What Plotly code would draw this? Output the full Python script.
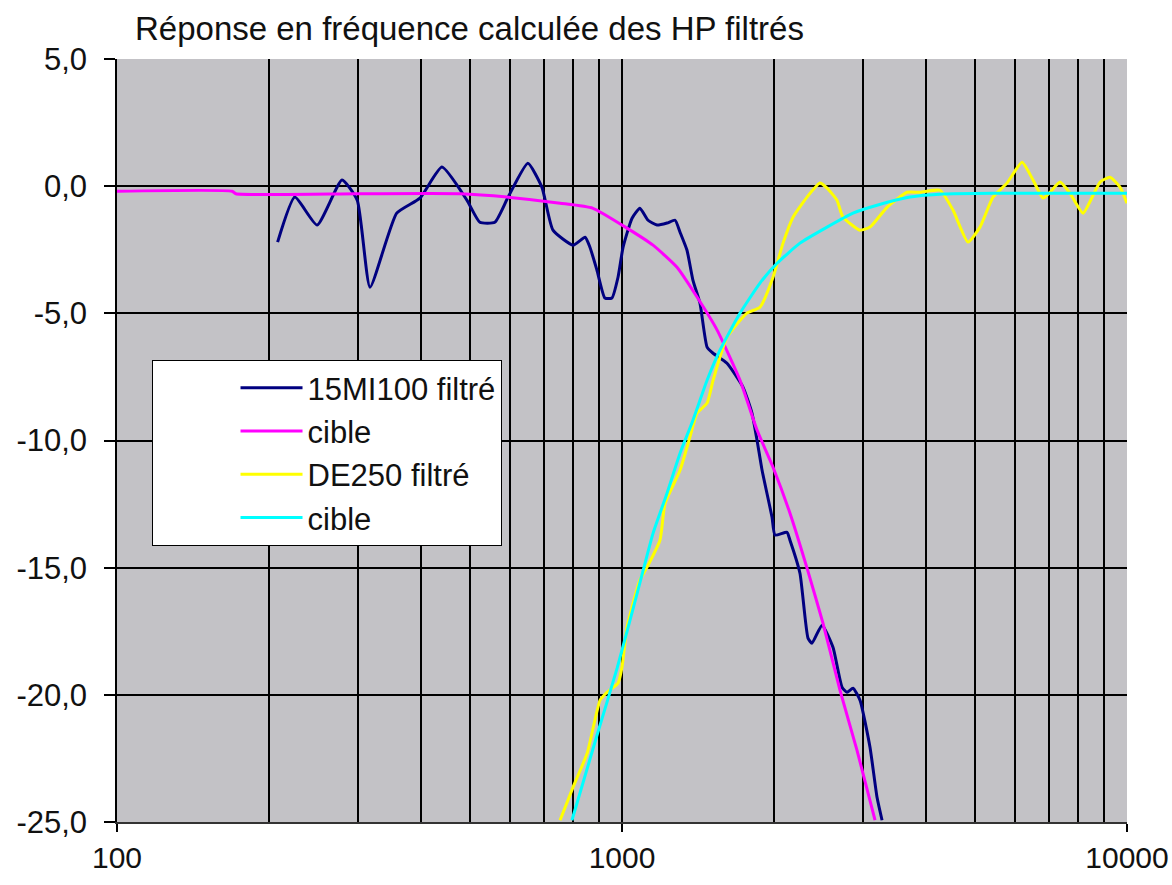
import plotly.graph_objects as go

# ---- data (frequency in Hz, level in dB) ----
freq_15mi = [208, 225, 249, 279, 299, 317, 358, 398, 440, 493, 523, 560, 595, 651, 694, 730, 800, 845, 864, 892,
             925, 955, 982, 1005, 1047, 1085, 1126, 1173, 1228, 1274, 1303, 1345, 1382, 1427, 1474, 1515, 1614, 1736,
             1809, 1851, 1894, 1982, 2009, 2122, 2151, 2251, 2335, 2378, 2489, 2617, 2727, 2790, 2867, 2960, 3098,
             3199, 3273]
db_15mi = [-2.20, -0.43, -1.53, 0.24, -0.55, -3.97, -1.06, -0.47, 0.75, -0.55, -1.42, -1.42, -0.43, 0.90, -0.04,
           -1.73, -2.32, -2.01, -2.40, -3.30, -4.40, -4.40, -3.58, -2.40, -1.26, -0.87, -1.34, -1.53, -1.45, -1.34,
           -1.81, -2.52, -3.70, -4.60, -6.33, -6.57, -6.96, -7.90, -8.93, -9.99, -11.17, -13.02, -13.72, -13.61,
           -13.92, -15.22, -17.77, -17.97, -17.26, -18.13, -19.70, -19.90, -19.74, -20.21, -22.06, -24.03, -24.93]

freq_cible1 = [100, 169, 172, 300, 478, 592, 754, 876, 1023, 1152, 1285, 1408, 1543, 1713, 1851, 1991, 2151, 2325,
               2500, 2702, 2920, 3170]
db_cible1 = [-0.2, -0.2, -0.3, -0.3, -0.3, -0.43, -0.67, -0.87, -1.65, -2.32, -3.19, -4.36, -5.66, -7.63, -9.59,
             -11.05, -12.86, -15.02, -17.18, -19.82, -22.18, -24.93]

freq_de250 = [754, 800, 853, 905, 934, 982, 1000, 1023, 1085, 1121, 1189, 1217, 1303, 1363, 1408, 1474, 1515, 1614,
              1768, 1876, 1991, 2084, 2181, 2325, 2466, 2547, 2665, 2739, 2960, 3098, 3348, 3668, 3891, 4263, 4523,
              4843, 5116, 5428, 5785, 6197, 6516, 6819, 7040, 7368, 7712, 8183, 8844, 9254, 9685, 10000]
db_de250 = [-24.93, -23.63, -22.30, -20.21, -19.90, -19.54, -18.91, -17.34, -15.49, -14.98, -13.92, -12.47, -11.17,
            -9.87, -8.93, -8.53, -7.63, -5.94, -4.99, -4.76, -3.58, -2.24, -1.22, -0.43, 0.12, -0.08, -0.55, -1.22,
            -1.73, -1.61, -0.83, -0.24, -0.24, -0.16, -0.94, -2.20, -1.61, -0.43, 0.12, 0.94, 0.24, -0.47, -0.24,
            0.16, -0.28, -1.06, 0.16, 0.35, -0.04, -0.67]

freq_cible2 = [796, 892, 978, 1085, 1152, 1228, 1303, 1382, 1474, 1563, 1713, 1876, 2028, 2251, 2547, 2867, 3199,
               3718, 4321, 5428, 10000]
db_cible2 = [-24.93, -21.6, -18.95, -15.6, -13.65, -12.07, -10.50, -9.20, -7.63, -6.45, -4.99, -3.81, -3.03, -2.24,
             -1.61, -1.06, -0.75, -0.43, -0.31, -0.28, -0.28]

series_names = ["15MI100 filtré", "cible", "DE250 filtré", "cible"]
series_colors = ["#000080", "#ff00ff", "#ffff00", "#00ffff"]

y_tickvals = [5, 0, -5, -10, -15, -20, -25]
y_ticktext = ["5,0", "0,0", "-5,0", "-10,0", "-15,0", "-20,0", "-25,0"]
x_tickvals = [100, 1000, 10000]
x_ticktext = ["100", "1000", "10000"]
x_minor_grid = [200, 300, 400, 500, 600, 700, 800, 900, 2000, 3000, 4000, 5000, 6000, 7000, 8000, 9000]

FONT = "Arial, Liberation Sans, sans-serif"

fig = go.Figure()
data = [(freq_15mi, db_15mi), (freq_cible1, db_cible1), (freq_de250, db_de250), (freq_cible2, db_cible2)]
for i, ((fx, fy), name, col) in enumerate(zip(data, series_names, series_colors)):
    fig.add_trace(go.Scatter(
        x=fx, y=fy, mode="lines", name=name, legendgroup=f"g{i}",
        line=dict(color=col, width=3, shape="spline", smoothing=0.5),
    ))

fig.update_layout(
    width=1172, height=885,
    margin=dict(l=117, r=45, t=59, b=63, autoexpand=False),
    paper_bgcolor="white",
    plot_bgcolor="#c3c2c6",
    font=dict(family=FONT, color="black", size=29),
    title=dict(text="Réponse en fréquence calculée des HP filtrés",
               x=135 / 1172, xref="container", xanchor="left",
               y=1 - 28 / 885, yref="container", yanchor="middle",
               font=dict(family=FONT, size=33, color="#111111")),
    showlegend=True,
    legend=dict(x=(152 - 117) / 1010, y=(822 - 360) / 763, xanchor="left", yanchor="top",
                xref="paper", yref="paper",
                bgcolor="white", bordercolor="black", borderwidth=1,
                font=dict(family=FONT, size=31, color="#111111"),
                title=dict(text="\u00a0" * 9, side="left", font=dict(size=29)),
                itemwidth=62, tracegroupgap=8, traceorder="normal"),
)

fig.update_xaxes(
    type="log", range=[2, 4], automargin=False,
    tickvals=x_tickvals, ticktext=x_ticktext,
    ticks="outside", ticklen=8, tickwidth=1.5, tickcolor="black",
    showline=True, linecolor="#333333", linewidth=2,
    showgrid=True, gridcolor="black", gridwidth=2,
    minor=dict(tickvals=x_minor_grid, showgrid=True, gridcolor="black", gridwidth=2, ticks=""),
    zeroline=False, ticklabelstandoff=0,
    tickfont=dict(family=FONT, size=30, color="#111111"),
)
fig.update_yaxes(
    range=[-25, 5], automargin=False,
    tickvals=y_tickvals, ticktext=y_ticktext,
    ticks="outside", ticklen=11, tickwidth=1.5, tickcolor="black",
    showline=True, linecolor="black", linewidth=1.5,
    showgrid=True, gridcolor="black", gridwidth=2,
    zeroline=False, ticklabelstandoff=11,
    tickfont=dict(family=FONT, size=31, color="#111111"),
)

fig.write_html("out.html")
